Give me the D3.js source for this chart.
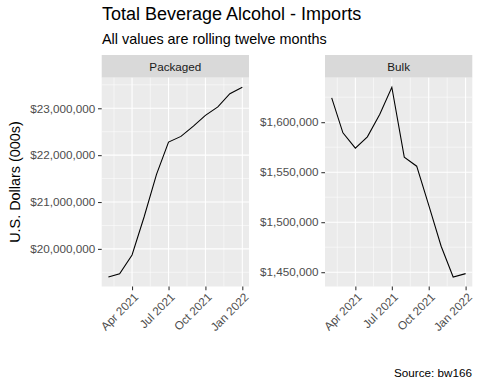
<!DOCTYPE html>
<html>
<head>
<meta charset="utf-8">
<script src="https://cdn.jsdelivr.net/npm/d3@7"></script>
<style>
  body { margin: 0; background: #ffffff; }
  svg { display: block; font-family: "Liberation Sans", Arial, sans-serif; }
</style>
</head>
<body>
<svg width="480" height="384"></svg>
<script>
// data, rolling twelve months, US dollars (000s)
var months = ["2021-02-01", "2021-03-01", "2021-04-01", "2021-05-01", "2021-06-01", "2021-07-01",
              "2021-08-01", "2021-09-01", "2021-10-01", "2021-11-01", "2021-12-01", "2022-01-01"];
var packaged = [19400000, 19470000, 19870000, 20680000, 21590000, 22280000,
                22400000, 22620000, 22850000, 23030000, 23310000, 23450000];
var bulk = [1624400, 1589400, 1574000, 1585400, 1608000, 1635000,
            1565000, 1556000, 1517000, 1476000, 1445200, 1448600];
var packagedTicks = [20000000, 21000000, 22000000, 23000000];
var bulkTicks = [1450000, 1500000, 1550000, 1600000];
var dateTicks = ["2021-04-01", "2021-07-01", "2021-10-01", "2022-01-01"];
var facets = ["Packaged", "Bulk"];

var parse = d3.utcParse("%Y-%m-%d");
var dates = months.map(parse);
var tickDates = dateTicks.map(parse);
var fmtDate = d3.utcFormat("%b %Y");
var fmtMoney = function(v) { return "$" + d3.format(",")(v); };

var svg = d3.select("svg");

// titles
svg.append("text")
    .attr("x", 102)
    .attr("y", 20)
    .style("font-size", "18px")
    .attr("fill", "#000")
    .text("Total Beverage Alcohol - Imports");
svg.append("text")
    .attr("x", 102)
    .attr("y", 44)
    .style("font-size", "14.4px")
    .attr("fill", "#000")
    .text("All values are rolling twelve months");

// y axis title
svg.append("text")
    .attr("transform", "translate(20,182) rotate(-90)")
    .attr("text-anchor", "middle")
    .style("font-size", "14.4px")
    .text("U.S. Dollars (000s)");

// caption
svg.append("text")
    .attr("x", 472)
    .attr("y", 377)
    .attr("text-anchor", "end")
    .style("font-size", "11.7px")
    .text("Source: bw166");

var stripTop = 55, panelTop = 77.7, panelBottom = 286.5;

function expand(ext) {
    var lo = +ext[0], hi = +ext[1];
    var pad = (hi - lo) * 0.05;
    return [lo - pad, hi + pad];
}

function drawPanel(name, values, ticks, left, right) {
    var x = d3.scaleUtc()
        .domain(expand(d3.extent(dates)).map(function(v) { return new Date(v); }))
        .range([left, right]);
    var y = d3.scaleLinear()
        .domain(expand(d3.extent(values)))
        .range([panelBottom, panelTop]);

    // strip
    svg.append("rect")
        .attr("x", left).attr("y", stripTop)
        .attr("width", right - left).attr("height", panelTop - stripTop)
        .attr("fill", "#d9d9d9");
    svg.append("text")
        .attr("x", (left + right) / 2)
        .attr("y", 70.5)
        .attr("text-anchor", "middle")
        .style("font-size", "11.7px")
        .attr("fill", "#1a1a1a")
        .text(name);

    // panel background
    svg.append("rect")
        .attr("x", left).attr("y", panelTop)
        .attr("width", right - left).attr("height", panelBottom - panelTop)
        .attr("fill", "#ebebeb");

    var g = svg.append("g");

    // minor grid, midpoints between major breaks
    var step = ticks[1] - ticks[0];
    var yMinor = [ticks[0] - step / 2].concat(ticks.map(function(t) { return t + step / 2; }))
        .filter(function(v) { return v >= y.domain()[0] && v <= y.domain()[1]; });
    var xStart = d3.utcMonth.offset(tickDates[0], -3);
    var xAll = [xStart].concat(tickDates);
    var xMinor = [];
    for (var i = 0; i < xAll.length - 1; i++) {
        xMinor.push(new Date((+xAll[i] + +xAll[i + 1]) / 2));
    }
    xMinor = xMinor.filter(function(d) { return d >= x.domain()[0] && d <= x.domain()[1]; });

    g.selectAll(".ymin").data(yMinor).enter().append("line")
        .attr("x1", left).attr("x2", right)
        .attr("y1", function(d) { return y(d); }).attr("y2", function(d) { return y(d); })
        .attr("stroke", "#fff").attr("stroke-width", 0.53);
    g.selectAll(".xmin").data(xMinor).enter().append("line")
        .attr("y1", panelTop).attr("y2", panelBottom)
        .attr("x1", function(d) { return x(d); }).attr("x2", function(d) { return x(d); })
        .attr("stroke", "#fff").attr("stroke-width", 0.53);

    // major grid
    g.selectAll(".ymaj").data(ticks).enter().append("line")
        .attr("x1", left).attr("x2", right)
        .attr("y1", function(d) { return y(d); }).attr("y2", function(d) { return y(d); })
        .attr("stroke", "#fff").attr("stroke-width", 1.07);
    g.selectAll(".xmaj").data(tickDates).enter().append("line")
        .attr("y1", panelTop).attr("y2", panelBottom)
        .attr("x1", function(d) { return x(d); }).attr("x2", function(d) { return x(d); })
        .attr("stroke", "#fff").attr("stroke-width", 1.07);

    // line
    var line = d3.line()
        .x(function(d, i) { return x(dates[i]); })
        .y(function(d) { return y(d); });
    g.append("path")
        .datum(values)
        .attr("d", line)
        .attr("fill", "none")
        .attr("stroke", "#000")
        .attr("stroke-width", 1.07);

    // y axis
    var yAxis = svg.append("g")
        .attr("transform", "translate(" + left + ",0)")
        .call(d3.axisLeft(y).tickValues(ticks).tickFormat(fmtMoney).tickSize(3.67).tickPadding(2.9));
    yAxis.select(".domain").remove();
    yAxis.selectAll(".tick line").attr("stroke", "#333").attr("stroke-width", 1.07);
    yAxis.selectAll(".tick text")
        .attr("fill", "#4d4d4d")
        .style("font-size", "11.7px")
        .style("font-family", "Liberation Sans, Arial, sans-serif");

    // x axis
    var xAxis = svg.append("g")
        .attr("transform", "translate(0," + panelBottom + ")")
        .call(d3.axisBottom(x).tickValues(tickDates).tickFormat(fmtDate).tickSize(3.67).tickPadding(2.9));
    xAxis.select(".domain").remove();
    xAxis.selectAll(".tick line").attr("stroke", "#333").attr("stroke-width", 1.07);
    xAxis.selectAll(".tick text")
        .attr("fill", "#4d4d4d")
        .style("font-size", "11.7px")
        .style("font-family", "Liberation Sans, Arial, sans-serif")
        .attr("text-anchor", "end")
        .attr("x", -3.3)
        .attr("y", 3.9)
        .attr("dy", "0.75em")
        .attr("transform", "rotate(-45)");
}

drawPanel(facets[0], packaged, packagedTicks, 101.7, 249);
drawPanel(facets[1], bulk, bulkTicks, 325, 472.3);
</script>
</body>
</html>
